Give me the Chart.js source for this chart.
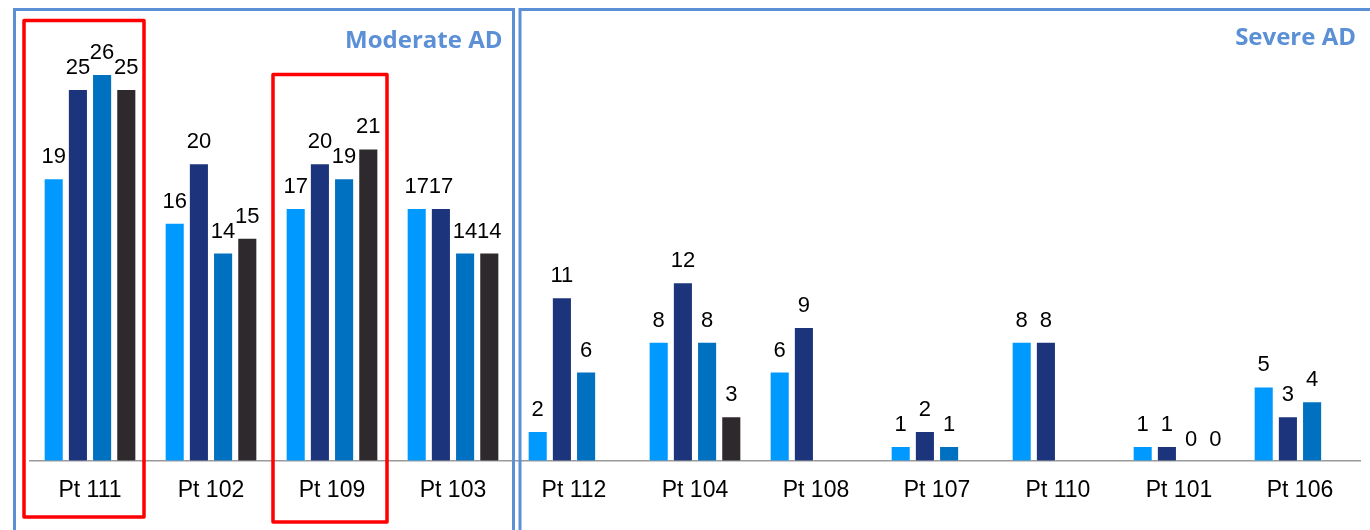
<!DOCTYPE html>
<html>
<head>
<meta charset="utf-8">
<script src="https://cdn.jsdelivr.net/npm/chart.js@4/dist/chart.umd.min.js"></script>
<style>
  html, body { margin: 0; padding: 0; background: #fff; }
  #wrap { width: 1370px; height: 530px; position: relative; }
</style>
</head>
<body>
<div id="wrap"><canvas id="chart"></canvas></div>
<script>
// patient groups and scores per series
const patients = ['Pt 111', 'Pt 102', 'Pt 109', 'Pt 103', 'Pt 112', 'Pt 104', 'Pt 108', 'Pt 107', 'Pt 110', 'Pt 101', 'Pt 106'];
const series1 = [19, 16, 17, 17, 2, 8, 6, 1, 8, 1, 5];
const series2 = [25, 20, 20, 17, 11, 12, 9, 2, 8, 1, 3];
const series3 = [26, 14, 19, 14, 6, 8, null, 1, null, 0, 4];
const series4 = [25, 15, 21, 14, null, 3, null, null, null, 0, null];

const groupNames = ['Moderate AD', 'Severe AD'];
const moderateCount = 4;          // first 4 patients are moderate
const highlighted = [0, 2];       // Pt 111, Pt 109

const BLUE_FRAME = '#5b8fd6';

// value labels above every bar (0 shown, null skipped)
const valueLabels = {
    id: 'valueLabels',
    afterDatasetsDraw(chart) {
        const ctx = chart.ctx;
        ctx.save();
        ctx.font = '22px "Liberation Sans", Arial, sans-serif';
        ctx.fillStyle = '#000';
        ctx.textAlign = 'center';
        ctx.textBaseline = 'alphabetic';
        chart.data.datasets.forEach((ds, i) => {
            const meta = chart.getDatasetMeta(i);
            meta.data.forEach((bar, j) => {
                const v = ds.data[j];
                if (v === null || v === undefined) return;
                ctx.fillText(String(v), bar.x, bar.y - 15);
            });
        });
        ctx.restore();
    }
};

// group frames, titles and highlight boxes
const frames = {
    id: 'frames',
    afterDraw(chart) {
        const ctx = chart.ctx;
        const x = chart.scales.x;
        const area = chart.chartArea;
        const step = (area.right - area.left) / patients.length;
        const edge = i => area.left + i * step;
        const H = chart.height;

        ctx.save();
        ctx.lineWidth = 3;
        ctx.strokeStyle = BLUE_FRAME;
        // moderate frame
        ctx.beginPath();
        ctx.moveTo(edge(0) - 15, H + 5);
        ctx.lineTo(edge(0) - 15, 9.5);
        ctx.lineTo(edge(moderateCount), 9.5);
        ctx.lineTo(edge(moderateCount), H + 5);
        ctx.stroke();
        // severe frame
        ctx.beginPath();
        ctx.moveTo(edge(moderateCount) + 6.5, H + 5);
        ctx.lineTo(edge(moderateCount) + 6.5, 9.5);
        ctx.lineTo(chart.width + 5, 9.5);
        ctx.stroke();

        ctx.font = 'bold 24px "Open Sans", sans-serif';
        ctx.fillStyle = BLUE_FRAME;
        ctx.textAlign = 'right';
        ctx.textBaseline = 'alphabetic';
        ctx.fillText(groupNames[0], edge(moderateCount) - 11, 48);
        ctx.fillText(groupNames[1], chart.width - 14, 45);

        // red highlight boxes
        ctx.strokeStyle = '#ff0000';
        ctx.lineWidth = 3.5;
        ctx.lineJoin = 'round';
        const boxTops = [20.5, 74.5];
        const boxBottoms = [517, 522];
        highlighted.forEach((idx, k) => {
            const c = x.getPixelForValue(idx);
            const l = c - 66 + k * 7;
            const r = c + 54 + k;
            ctx.strokeRect(l, boxTops[k], r - l, boxBottoms[k] - boxTops[k]);
        });
        ctx.restore();
    }
};

new Chart(document.getElementById('chart'), {
    type: 'bar',
    data: {
        labels: patients,
        datasets: [
            { label: 'Series 1', data: series1, backgroundColor: '#0099ff' },
            { label: 'Series 2', data: series2, backgroundColor: '#1c347c' },
            { label: 'Series 3', data: series3, backgroundColor: '#0070c0' },
            { label: 'Series 4', data: series4, backgroundColor: '#2e292c' }
        ].map(d => Object.assign(d, {
            borderColor: 'rgba(255,255,255,0.45)',
            borderWidth: 1,
            categoryPercentage: 0.8,
            barPercentage: 0.83
        }))
    },
    options: {
        responsive: true,
        maintainAspectRatio: false,
        animation: false,
        layout: { padding: { top: 14.6, left: 29.5, right: 9.5, bottom: 9.6 } },
        scales: {
            y: { display: false, min: 0, max: 30 },
            x: {
                grid: { display: false, drawTicks: false },
                border: { display: true, color: '#9a9a9a', width: 1.5 },
                ticks: {
                    color: '#000',
                    padding: 16,
                    font: { family: '"Liberation Sans", Arial, sans-serif', size: 23 }
                }
            }
        },
        plugins: {
            legend: { display: false },
            tooltip: { enabled: false }
        }
    },
    plugins: [valueLabels, frames]
});
</script>
</body>
</html>
